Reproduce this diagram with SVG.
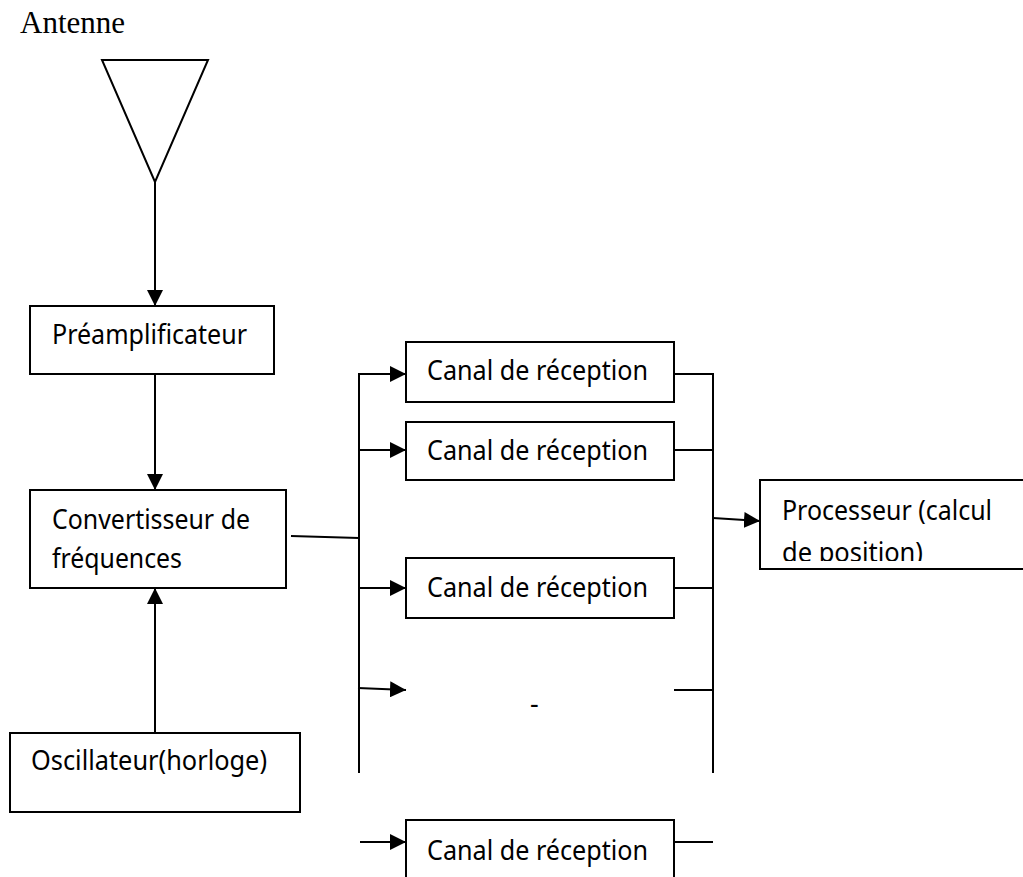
<svg xmlns="http://www.w3.org/2000/svg" width="1023" height="877" viewBox="0 0 1023 877">
<style>
.box{fill:#fff;stroke:#000;stroke-width:2}
.ln{fill:none;stroke:#000;stroke-width:2}
.t{font-family:"Noto Sans","Open Sans",sans-serif;font-size:27px;fill:#000}
.serif{font-family:"Liberation Serif","Times New Roman",serif;font-size:31px;fill:#000}
</style>
<defs>
<marker id="ah" markerUnits="userSpaceOnUse" markerWidth="16" markerHeight="16" viewBox="0 0 15 15" refX="15" refY="7.5" orient="auto">
<path d="M0,0 L15,7.5 L0,15 Z" fill="#000"/>
</marker>
<clipPath id="procClip"><rect x="761" y="481" width="262" height="80"/></clipPath>
</defs>
<rect width="1023" height="877" fill="#fff"/>
<g id="antenne">
<text class="serif" x="20" y="33">Antenne</text>
<polygon class="ln" points="102,60 208,60 155,182"/>
</g>
<g id="connectors">
<line class="ln" x1="155" y1="182" x2="155" y2="306" marker-end="url(#ah)"/>
<line class="ln" x1="155" y1="374" x2="155" y2="490" marker-end="url(#ah)"/>
<line class="ln" x1="155" y1="733" x2="155" y2="588" marker-end="url(#ah)"/>
<line class="ln" x1="291" y1="536" x2="359" y2="538"/>
<line class="ln" x1="359" y1="374" x2="359" y2="773"/>
<line class="ln" x1="713" y1="374" x2="713" y2="773"/>
<line class="ln" x1="358" y1="374" x2="406" y2="374" marker-end="url(#ah)"/>
<line class="ln" x1="358" y1="450" x2="406" y2="450" marker-end="url(#ah)"/>
<line class="ln" x1="358" y1="588" x2="406" y2="588" marker-end="url(#ah)"/>
<line class="ln" x1="358" y1="688" x2="406" y2="690" marker-end="url(#ah)"/>
<line class="ln" x1="360" y1="842" x2="406" y2="842" marker-end="url(#ah)"/>
<line class="ln" x1="674" y1="374" x2="714" y2="374"/>
<line class="ln" x1="674" y1="450" x2="714" y2="450"/>
<line class="ln" x1="674" y1="588" x2="714" y2="588"/>
<line class="ln" x1="674" y1="690" x2="714" y2="690"/>
<line class="ln" x1="674" y1="842" x2="713" y2="842"/>
<line class="ln" x1="713" y1="518" x2="760" y2="521" marker-end="url(#ah)"/>
</g>
<g id="preamp">
<rect class="box" x="30" y="306" width="244" height="68"/>
<text class="t" x="52" y="344" textLength="195" lengthAdjust="spacingAndGlyphs">Préamplificateur</text>
</g>
<g id="convertisseur">
<rect class="box" x="30" y="490" width="256" height="98"/>
<text class="t" x="52" y="529" textLength="198" lengthAdjust="spacingAndGlyphs">Convertisseur de</text>
<text class="t" x="52" y="568" textLength="130" lengthAdjust="spacingAndGlyphs">fréquences</text>
</g>
<g id="oscillateur">
<rect class="box" x="10" y="733" width="290" height="79"/>
<text class="t" x="31" y="770" textLength="236" lengthAdjust="spacingAndGlyphs">Oscillateur(horloge)</text>
</g>
<g id="canal1">
<rect class="box" x="406" y="342" width="268" height="60"/>
<text class="t" x="427" y="380" textLength="221" lengthAdjust="spacingAndGlyphs">Canal de réception</text>
</g>
<g id="canal2">
<rect class="box" x="406" y="422" width="268" height="58"/>
<text class="t" x="427" y="460" textLength="221" lengthAdjust="spacingAndGlyphs">Canal de réception</text>
</g>
<g id="canal3">
<rect class="box" x="406" y="558" width="268" height="60"/>
<text class="t" x="427" y="597" textLength="221" lengthAdjust="spacingAndGlyphs">Canal de réception</text>
</g>
<g id="canal-vide">
<text class="t" x="530" y="713">-</text>
</g>
<g id="canal5">
<rect class="box" x="406" y="820" width="268" height="70"/>
<text class="t" x="427" y="860" textLength="221" lengthAdjust="spacingAndGlyphs">Canal de réception</text>
</g>
<g id="processeur">
<rect class="box" x="760" y="480" width="300" height="89"/>
<g clip-path="url(#procClip)">
<text class="t" x="782" y="520" textLength="210" lengthAdjust="spacingAndGlyphs">Processeur (calcul</text>
<text class="t" x="782" y="562" textLength="141" lengthAdjust="spacingAndGlyphs">de position)</text>
</g>
</g>
</svg>
